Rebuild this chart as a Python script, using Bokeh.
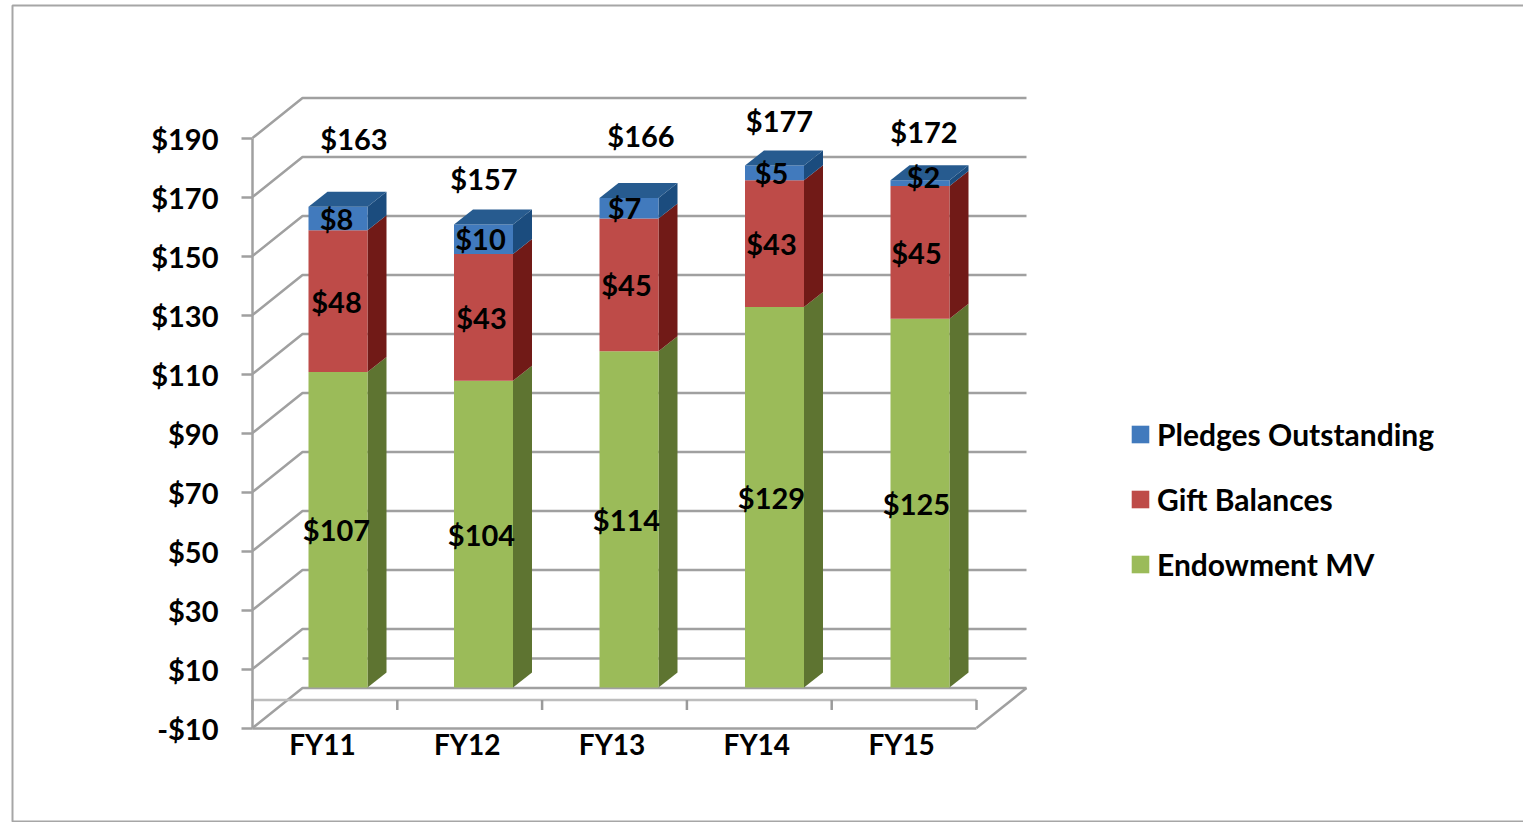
from bokeh.plotting import figure
from bokeh.embed import file_html
from bokeh.resources import INLINE
from bokeh.core.properties import value
from bokeh.models import (ColumnDataSource, LinearAxis, FixedTicker, Range1d,
                          Legend, LegendItem, BoxAnnotation)

# ---- data ----
categories = ["FY11", "FY12", "FY13", "FY14", "FY15"]
endowment = [107, 104, 114, 129, 125]
gifts = [48, 43, 45, 43, 45]
pledges = [8, 10, 7, 5, 2]
value_ticks = [-10, 10, 30, 50, 70, 90, 110, 130, 150, 170, 190]
value_tick_labels = ["-$10", "$10", "$30", "$50", "$70", "$90", "$110", "$130", "$150", "$170", "$190"]
series_names = ["Endowment MV", "Gift Balances", "Pledges Outstanding"]

# ---- layout / style ----
W, H = 1523, 822
PX_X = 144.8               # pixels per category slot
PX_Y = 2.95                # pixels per value unit
X0_PAGE = 252              # page x of slot 0
YM10_PAGE = 727.5          # page y of value -10
DEPTH_X = 50 / PX_X        # wall depth
DEPTH_Y = 40 / PX_Y
BAR_L = 56 / PX_X
BAR_STEP = 145.5 / PX_X
BAR_W = 59 / PX_X
BAR_BASE = 3.7             # value-plane shift of the bar bases
SIDE_X = 19 / PX_X
SIDE_Y = 15 / PX_Y
FONT = "Lato"
FS = "29px"
GRID = "#a0a0a0"
face = ["#9bbb59", "#be4b48", "#417abd"]
side = ["#5e7431", "#711a17", "#1b4c7e"]
top_col = "#275b8f"

x_start = -X0_PAGE / PX_X
x_end = (W - X0_PAGE) / PX_X
y_end = YM10_PAGE / PX_Y - 10
y_start = (YM10_PAGE - H) / PX_Y - 10

p = figure(width=W, height=H, output_backend="svg", toolbar_location=None,
           x_axis_type=None, y_axis_type=None,
           x_range=Range1d(x_start, x_end), y_range=Range1d(y_start, y_end),
           min_border=0, min_border_left=0, min_border_right=0, min_border_top=0, min_border_bottom=0,
           outline_line_color=None, background_fill_color="white", border_fill_color="white")

p.add_layout(BoxAnnotation(left=12, right=W + 50, top=5, bottom=821,
                           left_units="canvas", right_units="canvas",
                           top_units="canvas", bottom_units="canvas",
                           fill_alpha=0, line_color="#a6a6a6", line_alpha=1, line_width=2, level="underlay"))

# ---- walls ----
n = len(categories)
wall_vals = value_ticks + [0]
xs = []
ys = []
for v in wall_vals:
    if v == 0:
        xs.append([DEPTH_X, n + DEPTH_X])
        ys.append([v + DEPTH_Y, v + DEPTH_Y])
    else:
        xs.append([0, DEPTH_X, n + DEPTH_X])
        ys.append([v, v + DEPTH_Y, v + DEPTH_Y])
xs.append([n, n + DEPTH_X])
ys.append([-10, -10 + DEPTH_Y])
p.multi_line(xs=xs, ys=ys, line_color=GRID, line_width=2.5, level="underlay")

# category-axis line with its tick marks on the floor
AX0 = -0.5
p.line(x=[0, n], y=[AX0, AX0], line_color="#bdbdbd", line_width=2.5, level="underlay")
p.segment(x0=list(range(n + 1)), x1=list(range(n + 1)), y0=[AX0] * (n + 1), y1=[AX0 - 10 / PX_Y] * (n + 1),
          line_color="#9a9a9a", line_width=2.5, level="underlay")

# ---- axes ----
yax = LinearAxis(fixed_location=0, ticker=FixedTicker(ticks=value_ticks), bounds=(-10, 190),
                 major_label_overrides=dict(zip(value_ticks, value_tick_labels)),
                 axis_line_color=GRID, axis_line_width=2.5,
                 major_tick_line_color=GRID, major_tick_line_width=2.5,
                 major_tick_in=0, major_tick_out=11, minor_tick_line_color=None,
                 major_label_standoff=23, major_label_text_font=FONT,
                 major_label_text_font_size=FS, major_label_text_font_style="bold",
                 major_label_text_color="black")
p.add_layout(yax, "left")

cat_ticks = [round(i + 0.483, 3) for i in range(n)]
xax = LinearAxis(fixed_location=-10, ticker=FixedTicker(ticks=cat_ticks), bounds=(0, n),
                 major_label_overrides=dict(zip(cat_ticks, categories)),
                 axis_line_color=GRID, axis_line_width=2.5,
                 major_tick_line_color=None, minor_tick_line_color=None,
                 major_tick_in=0, major_tick_out=0,
                 major_label_standoff=-1, major_label_text_font=FONT,
                 major_label_text_font_size="28px", major_label_text_font_style="bold",
                 major_label_text_color="black")
p.add_layout(xax, "below")

# ---- bars ----
series = [endowment, gifts, pledges]
bar_left = [BAR_L + i * BAR_STEP for i in range(n)]
bar_right = [b + BAR_W for b in bar_left]
bar_mid = [b + BAR_W / 2 - (1.5 + 0.5 * i) / PX_X for i, b in enumerate(bar_left)]
label_dx = {0: [0] * n, 1: [0] * n, 2: [0, -1, -2, 0, 7]}
label_dy = {0: [0] * n, 1: [0] * n, 2: [0, -1, -1, 0, -7]}
bottoms = [0] * n
quads = {}
label_sources = {}
for k, vals in enumerate(series):
    tops = [b + v for b, v in zip(bottoms, vals)]
    bot_s = [b + BAR_BASE for b in bottoms]
    top_s = [t + BAR_BASE for t in tops]
    # side faces
    p.patches(xs=[[r, r + SIDE_X, r + SIDE_X, r] for r in bar_right],
              ys=[[b, b + SIDE_Y, t + SIDE_Y, t] for b, t in zip(bot_s, top_s)],
              fill_color=side[k], line_color=None)
    # front faces
    src = ColumnDataSource(dict(left=bar_left, right=bar_right, bottom=bot_s, top=top_s))
    quads[k] = p.quad(left="left", right="right", bottom="bottom", top="top", source=src,
                      fill_color=face[k], line_color=None)
    # value labels
    label_sources[k] = ColumnDataSource(dict(x=bar_mid, y=[(b + t) / 2 for b, t in zip(bot_s, top_s)],
                                             t=[f"${v}" for v in vals],
                                             dx=label_dx[k], dy=label_dy[k]))
    bottoms = tops

totals = bottoms
top_s = [t + BAR_BASE for t in totals]
p.patches(xs=[[l, r, r + SIDE_X, l + SIDE_X] for l, r in zip(bar_left, bar_right)],
          ys=[[t, t, t + SIDE_Y, t + SIDE_Y] for t in top_s],
          fill_color=top_col, line_color=None)

for k in range(3):
    p.text(x="x", y="y", text="t", x_offset="dx", y_offset="dy", source=label_sources[k],
           text_font=value(FONT), text_font_size=FS, text_font_style="bold", text_color="black",
           text_align="center", text_baseline="middle")

# totals sit at irregular distances above the bars
total_dx = [17.5, 2.5, 14.5, 8, 7.5]
total_dy = [-68, -46, -62, -45, -49]
p.text(x="x", y="y", text="t", x_offset="dx", y_offset="dy",
       source=ColumnDataSource(dict(x=bar_mid, y=top_s, t=[f"${v}" for v in totals],
                                    dx=total_dx, dy=total_dy)),
       text_font=value(FONT), text_font_size=FS, text_font_style="bold", text_color="black",
       text_align="center", text_baseline="middle")

# ---- legend ----
legend = Legend(items=[LegendItem(label=series_names[k], renderers=[quads[k]]) for k in (2, 1, 0)],
                location=(1129, 240), orientation="vertical",
                glyph_width=22, glyph_height=22, label_standoff=6, spacing=29,
                padding=0, margin=0, border_line_color=None, background_fill_alpha=0,
                label_text_font=FONT, label_text_font_size="30px", label_text_font_style="bold",
                label_text_color="black")
p.add_layout(legend, "center")

open("out.html", "w").write(file_html(p, INLINE))
